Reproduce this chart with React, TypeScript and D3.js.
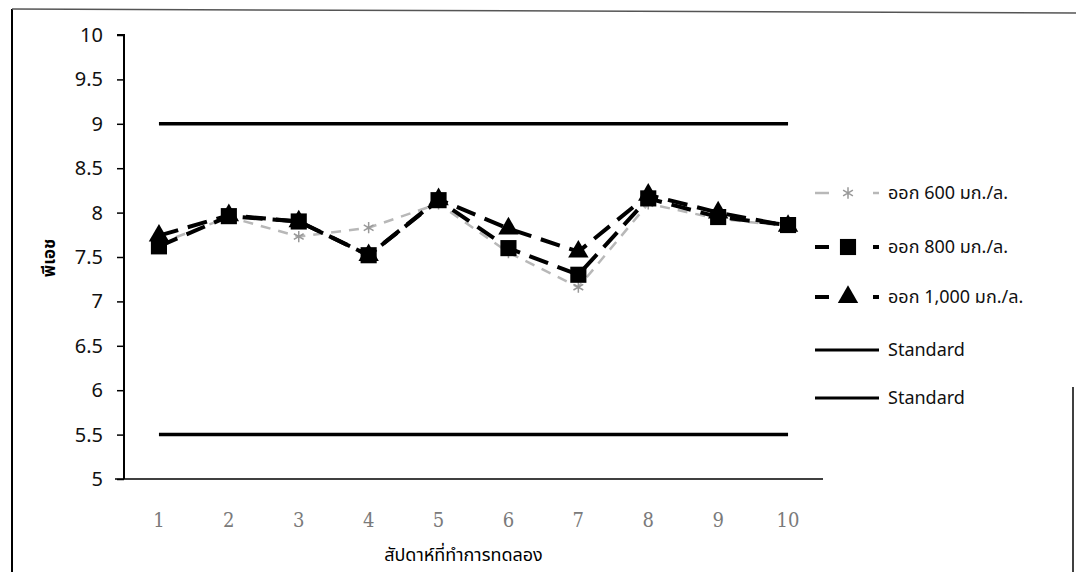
import { useEffect, useRef } from 'react';
import * as d3 from 'd3';

const weeks = ['1', '2', '3', '4', '5', '6', '7', '8', '9', '10'];
const yTicks = [5, 5.5, 6, 6.5, 7, 7.5, 8, 8.5, 9, 9.5, 10];
const ph600 = [7.65, 7.95, 7.73, 7.83, 8.1, 7.55, 7.16, 8.1, 7.93, 7.85];
const ph800 = [7.62, 7.96, 7.9, 7.52, 8.14, 7.6, 7.3, 8.16, 7.95, 7.86];
const ph1000 = [7.74, 7.97, 7.9, 7.52, 8.15, 7.82, 7.56, 8.2, 8.0, 7.85];
const stdHigh = [9, 9, 9, 9, 9, 9, 9, 9, 9, 9];
const stdLow = [5.5, 5.5, 5.5, 5.5, 5.5, 5.5, 5.5, 5.5, 5.5, 5.5];
const legendLabels = ['ออก 600 มก./ล.', 'ออก 800 มก./ล.', 'ออก 1,000 มก./ล.', 'Standard', 'Standard'];

const App = () => {
    const svgRef = useRef<SVGSVGElement>(null);

    useEffect(() => {
        const svg = d3.select(svgRef.current);
        svg.selectAll('*').remove();

        const width = 1076;
        const height = 572;
        const plot = { left: 124, right: 823, top: 35, bottom: 479 };
        const font = '"Noto Sans", "Noto Sans Thai", "DejaVu Sans", sans-serif';

        svg.attr('width', width).attr('height', height);
        svg.append('rect').attr('width', width).attr('height', height).attr('fill', '#fff');

        // outer frame
        svg.append('line').attr('x1', 12).attr('y1', 9).attr('x2', 12).attr('y2', height)
            .attr('stroke', '#000').attr('stroke-width', 2);
        svg.append('line').attr('x1', 12).attr('y1', 9).attr('x2', width).attr('y2', 13)
            .attr('stroke', '#555').attr('stroke-width', 1.5);
        svg.append('line').attr('x1', 1073).attr('y1', 387).attr('x2', 1073).attr('y2', height)
            .attr('stroke', '#000').attr('stroke-width', 1.5);

        const x = d3.scaleBand().domain(weeks).range([plot.left, plot.right]);
        const y = d3.scaleLinear().domain([5, 10]).range([plot.bottom, plot.top]);
        const cx = (i: number) => (x(weeks[i]) as number) + x.bandwidth() / 2;

        // y axis
        const yAxis = svg.append('g')
            .attr('transform', `translate(${plot.left},0)`)
            .call(d3.axisLeft(y).tickValues(yTicks).tickSize(7).tickPadding(14)
                .tickFormat(d => d3.format('')(d as number)));
        yAxis.select('.domain').attr('stroke', '#000').attr('stroke-width', 2)
            .attr('d', `M-7,${plot.top}H0V${plot.bottom}`);
        yAxis.selectAll('.tick line').attr('stroke', '#000').attr('stroke-width', 1.5);
        yAxis.selectAll('.tick text')
            .attr('fill', '#111').style('font-family', font).style('font-size', '20px');

        // x axis
        svg.append('line').attr('x1', 115).attr('x2', plot.right)
            .attr('y1', plot.bottom).attr('y2', plot.bottom)
            .attr('stroke', '#000').attr('stroke-width', 1.5);
        svg.append('g').selectAll('text').data(weeks).join('text')
            .attr('x', (d, i) => cx(i))
            .attr('y', plot.bottom + 48)
            .attr('text-anchor', 'middle')
            .attr('fill', '#7a7a7a')
            .style('font-family', '"DejaVu Serif", serif')
            .style('font-stretch', 'condensed')
            .style('font-size', '20px')
            .text(d => d);

        // axis titles
        svg.append('text')
            .attr('x', (plot.left + plot.right) / 2 - 10)
            .attr('y', plot.bottom + 82)
            .attr('text-anchor', 'middle')
            .style('font-family', font).style('font-size', '18px')
            .text('สัปดาห์ที่ทำการทดลอง');
        svg.append('text')
            .attr('transform', `translate(50,258) rotate(-90)`)
            .attr('text-anchor', 'middle')
            .attr('dominant-baseline', 'middle')
            .style('font-family', font).style('font-size', '17px').style('font-weight', 'bold')
            .text('พีเอช');

        const line = d3.line<number>().x((d, i) => cx(i)).y(d => y(d));

        // standards
        [stdHigh, stdLow].forEach(s => {
            svg.append('path').datum(s).attr('d', line)
                .attr('fill', 'none').attr('stroke', '#000').attr('stroke-width', 3.5);
        });

        const star = d3.symbol().type(d3.symbolAsterisk).size(90);
        const square = d3.symbol().type(d3.symbolSquare).size(260);
        const tri = d3.symbol().type(d3.symbolTriangle).size(180);

        // 600
        svg.append('path').datum(ph600).attr('d', line)
            .attr('fill', 'none').attr('stroke', '#b8b8b8').attr('stroke-width', 2.5)
            .attr('stroke-dasharray', '10 8');
        svg.append('g').selectAll('path').data(ph600).join('path')
            .attr('transform', (d, i) => `translate(${cx(i)},${y(d)})`)
            .attr('d', star()).attr('fill', 'none').attr('stroke', '#999').attr('stroke-width', 1.5);

        // 800
        svg.append('path').datum(ph800).attr('d', line)
            .attr('fill', 'none').attr('stroke', '#000').attr('stroke-width', 4)
            .attr('stroke-dasharray', '20 10');
        svg.append('g').selectAll('path').data(ph800).join('path')
            .attr('transform', (d, i) => `translate(${cx(i)},${y(d)})`)
            .attr('d', square()).attr('fill', '#000');

        // 1000
        svg.append('path').datum(ph1000).attr('d', line)
            .attr('fill', 'none').attr('stroke', '#000').attr('stroke-width', 4)
            .attr('stroke-dasharray', '20 10');
        svg.append('g').selectAll('path').data(ph1000).join('path')
            .attr('transform', (d, i) => `translate(${cx(i)},${y(d)})`)
            .attr('d', tri()).attr('fill', '#000');

        // legend
        const legendY = [193, 247, 297, 350, 398];
        const lg = svg.append('g');
        legendLabels.forEach((label, i) => {
            const row = lg.append('g').attr('transform', `translate(815,${legendY[i]})`);
            if (i < 3) {
                const stroke = i === 0 ? '#b8b8b8' : '#000';
                const sw = i === 0 ? 2.5 : 4;
                row.append('line').attr('x1', 0).attr('x2', 14).attr('stroke', stroke).attr('stroke-width', sw);
                row.append('line').attr('x1', 58).attr('x2', 64).attr('stroke', stroke).attr('stroke-width', sw);
                const sym = [star, square, tri][i];
                row.append('path').attr('transform', 'translate(33,0)').attr('d', sym())
                    .attr('fill', i === 0 ? 'none' : '#000')
                    .attr('stroke', i === 0 ? '#999' : 'none').attr('stroke-width', 1.5);
            } else {
                row.append('line').attr('x1', 0).attr('x2', 64).attr('stroke', '#000').attr('stroke-width', 3);
            }
            row.append('text').attr('x', 73).attr('dy', '0.35em')
                .style('font-family', font).style('font-size', '18px').attr('fill', '#111')
                .text(label);
        });
    }, []);

    return <svg ref={svgRef} style={{ position: 'absolute', left: 0, top: 0 }}></svg>;
};

export default App;
